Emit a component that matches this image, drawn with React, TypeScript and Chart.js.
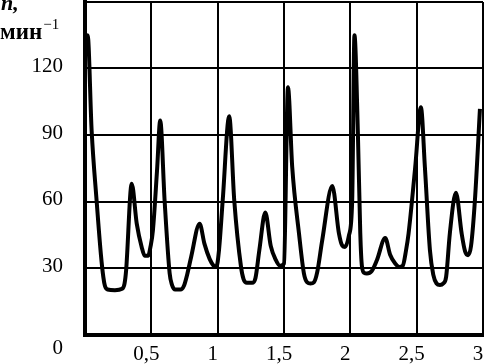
import React, { useEffect, useRef } from "react";
import { Chart, registerables } from "chart.js";

Chart.register(...registerables);

// time, min
const timeX = [
  0, 0.02, 0.05, 0.088, 0.12, 0.138, 0.15, 0.17, 0.226, 0.28, 0.298, 0.31,
  0.352, 0.39, 0.427, 0.45, 0.475, 0.495, 0.512, 0.543, 0.567,
  0.6, 0.638, 0.655, 0.68, 0.72, 0.746, 0.77, 0.8, 0.864, 0.9, 0.94, 0.97,
  0.99, 1.01, 1.038, 1.087,
  1.125, 1.176, 1.195, 1.22, 1.26, 1.285, 1.314, 1.359, 1.4, 1.439, 1.47,
  1.5, 1.53,
  1.562, 1.613, 1.65, 1.675, 1.7, 1.725, 1.75, 1.788, 1.864, 1.914, 1.94,
  1.96, 1.99, 2.014, 2.031,
  2.057, 2.075, 2.087, 2.105, 2.125, 2.16, 2.2, 2.263, 2.3, 2.338, 2.37,
  2.395, 2.42, 2.439, 2.489, 2.532,
  2.562, 2.6, 2.625, 2.65, 2.675, 2.7, 2.722, 2.75, 2.796, 2.839, 2.865,
  2.888, 2.91, 2.939, 2.977,
];
// n, min^-1
const speedN = [
  130, 135, 92, 60, 36, 26, 22, 20.3, 20, 20.6, 23, 29,
  68, 50, 39.5, 35.5, 35.5, 40, 47, 74, 96.5,
  60.5, 27.6, 22.5, 20.3, 20.3, 22, 27, 35, 50, 41, 34, 31,
  30.5, 38, 60.5, 98.5,
  60.5, 30.5, 25, 23.3, 23.3, 25.5, 38, 55, 40, 33.5, 31,
  32, 111.5,
  75.5, 45.6, 27.6, 23.5, 23, 23.5, 28, 42.5, 67, 45.6, 40,
  39.5, 44.8, 60.5, 135,
  90.6, 45.6, 31, 27.8, 27.5, 28.5, 33.5, 43.5, 36, 32, 30.5,
  31, 38, 45.6, 75.5, 102.5,
  75.5, 38, 27, 23, 22.3, 23, 26, 45.6, 64, 45.6, 37.5,
  35.8, 40, 60.5, 101.8,
];

const xTicks = [0, 0.5, 1, 1.5, 2, 2.5, 3];
const yTicks = [0, 30, 60, 90, 120, 150];
const originLabel = "0";
const yTitleVar = "n,";
const yTitleUnit = "мин";
const yTitleExp = "−1";

const FONT = "'Liberation Serif', 'Times New Roman', serif";

export default function App() {
  const ref = useRef<HTMLCanvasElement | null>(null);

  useEffect(() => {
    if (!ref.current) return;
    const extraText = {
      id: "extraText",
      afterDraw(chart: any) {
        const { ctx, scales } = chart;
        const xs = scales.x;
        const ys = scales.y;
        ctx.save();
        ctx.fillStyle = "#000";
        ctx.font = `21px ${FONT}`;
        ctx.textAlign = "right";
        ctx.textBaseline = "middle";
        ctx.fillText(originLabel, ys.right - 22, xs.top + 14);
        ctx.textAlign = "left";
        ctx.textBaseline = "alphabetic";
        ctx.font = `italic bold 22px ${FONT}`;
        ctx.fillText(yTitleVar, 1, 10);
        ctx.font = `bold 23px ${FONT}`;
        ctx.fillText(yTitleUnit, 0, 39);
        const w = ctx.measureText(yTitleUnit).width;
        ctx.font = `15px ${FONT}`;
        ctx.fillText(yTitleExp, w + 1, 29);
        ctx.restore();
      },
    };

    const chart = new Chart(ref.current, {
      type: "line",
      data: {
        datasets: [
          {
            data: timeX.map((x, i) => ({ x, y: speedN[i] })),
            borderColor: "#000",
            borderWidth: 4,
            pointRadius: 0,
            cubicInterpolationMode: "monotone",
            fill: false,
          },
        ],
      },
      options: {
        animation: false,
        responsive: false,
        layout: { padding: { top: 2, right: 3, left: 0, bottom: 0 } },
        plugins: { legend: { display: false }, tooltip: { enabled: false } },
        scales: {
          x: {
            type: "linear",
            min: 0,
            max: 3,
            afterBuildTicks: (s: any) => {
              s.ticks = xTicks.map((v) => ({ value: v }));
            },
            afterFit: (s: any) => {
              s.height = 29.5;
              s.paddingLeft = 0;
              s.paddingRight = 0;
            },
            ticks: {
              color: "#000",
              font: { family: FONT, size: 21 },
              padding: 7,
              labelOffset: -5,
              maxRotation: 0,
              autoSkip: false,
              callback: (v: any) => (v === 0 ? "" : String(v).replace(".", ",")),
            },
            grid: { color: "#000", lineWidth: 2, drawTicks: false },
            border: { color: "#000", width: 4 },
          },
          y: {
            type: "linear",
            min: 0,
            max: 150,
            afterBuildTicks: (s: any) => {
              s.ticks = yTicks.map((v) => ({ value: v }));
            },
            afterFit: (s: any) => {
              s.width = 85;
              s.paddingTop = 0;
              s.paddingBottom = 0;
            },
            ticks: {
              color: "#000",
              font: { family: FONT, size: 21 },
              padding: 22,
              labelOffset: -2,
              autoSkip: false,
              callback: (v: any) => (v === 0 || v === 150 ? "" : String(v)),
            },
            grid: { color: "#000", lineWidth: 2, drawTicks: false },
            border: { color: "#000", width: 4 },
          },
        },
      },
      plugins: [extraText],
    } as any);
    return () => chart.destroy();
  }, []);

  return (
    <div style={{ position: "fixed", left: 0, top: 0, width: 486, height: 364, background: "#fff" }}>
      <canvas ref={ref} width={486} height={364} style={{ display: "block" }} />
    </div>
  );
}
